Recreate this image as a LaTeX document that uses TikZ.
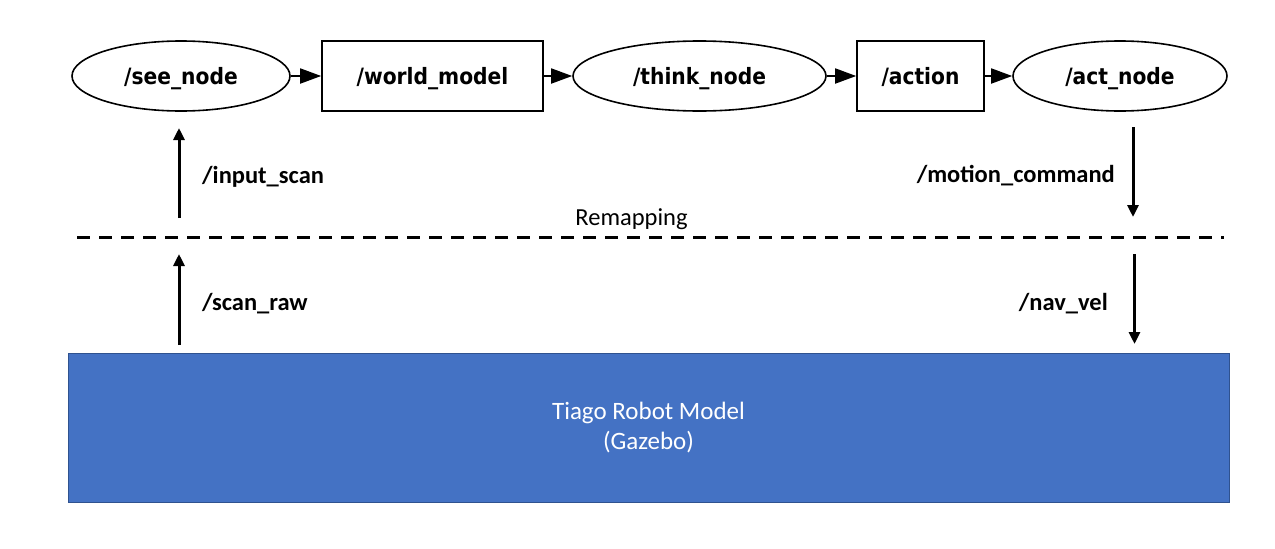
\documentclass[tikz,border=0pt]{standalone}
\usepackage{fontspec}
\setmainfont{Carlito}
\newfontfamily\gvfont{DejaVu Sans Condensed}
\usetikzlibrary{shapes.geometric,arrows.meta}
\definecolor{tiagoblue}{HTML}{4472C4}
\definecolor{tiagoedge}{HTML}{2F528F}
\tikzset{
  gvnode/.style={draw,line width=1.6pt,minimum height=70pt,inner sep=0pt,text depth=0pt,font=\gvfont\bfseries\fontsize{22.5}{26}\selectfont},
  gvell/.style={gvnode,ellipse},
  gvbox/.style={gvnode,rectangle},
  gvarr/.style={line width=1.8pt,-{Triangle[length=21pt,width=15pt]}},
  toparr/.style={line width=3pt,-{Triangle[length=12pt,width=11pt]}},
  topic/.style={font=\bfseries\fontsize{24.5}{29}\selectfont},
}
\begin{document}
\begin{tikzpicture}[x=1pt,y=-1pt]
\useasboundingbox (0,0) rectangle (1275,549);
\node[gvell,minimum width=218pt] (see) at (181,76) {/see\_node};
\node[gvbox,minimum width=221pt] (world) at (432.5,76) {/world\_model};
\node[gvell,minimum width=253pt] (think) at (699.5,76) {/think\_node};
\node[gvbox,minimum width=127pt] (action) at (920.5,76) {/action};
\node[gvell,minimum width=214pt] (act) at (1120,76) {/act\_node};
\draw[gvarr] (see) -- (world);
\draw[gvarr] (world) -- (think);
\draw[gvarr] (think) -- (action);
\draw[gvarr] (action) -- (act);

\node[draw=tiagoedge,line width=1pt,fill=tiagoblue,minimum width=1161pt,minimum height=149pt,inner sep=0pt,text=white,align=center,font=\fontsize{25}{30}\selectfont] (robot) at (648.5,427.5) {Tiago Robot Model\\(Gazebo)};

\coordinate (dl) at (77,237.5);
\coordinate (dr) at (1224,237.5);
\draw[line width=2.6pt,dash pattern=on 13pt off 9pt] (dl) -- (dr);
\node[font=\fontsize{24.5}{29}\selectfont] (remap) at (631.5,219) {Remapping};

\coordinate (a1s) at (179,218);
\coordinate (a1e) at (179,128);
\coordinate (a2s) at (179,345);
\coordinate (a2e) at (179,254);
\coordinate (b1s) at (1133,127);
\coordinate (b1e) at (1133,217);
\coordinate (b2s) at (1134.5,254);
\coordinate (b2e) at (1134.5,344);
\draw[toparr] (a1s) -- (a1e);
\draw[toparr] (a2s) -- (a2e);
\draw[toparr] (b1s) -- (b1e);
\draw[toparr] (b2s) -- (b2e);

\node[topic,anchor=west,inner xsep=0pt] (inscan) at (202,177) {/input\_scan};
\node[topic,anchor=west,inner xsep=0pt] (scanraw) at (202,304) {/scan\_raw};
\node[topic,anchor=east,inner xsep=0pt] (motion) at (1115,176) {/motion\_command};
\node[topic,anchor=east,inner xsep=0pt] (navvel) at (1108,304) {/nav\_vel};
\end{tikzpicture}
\end{document}
